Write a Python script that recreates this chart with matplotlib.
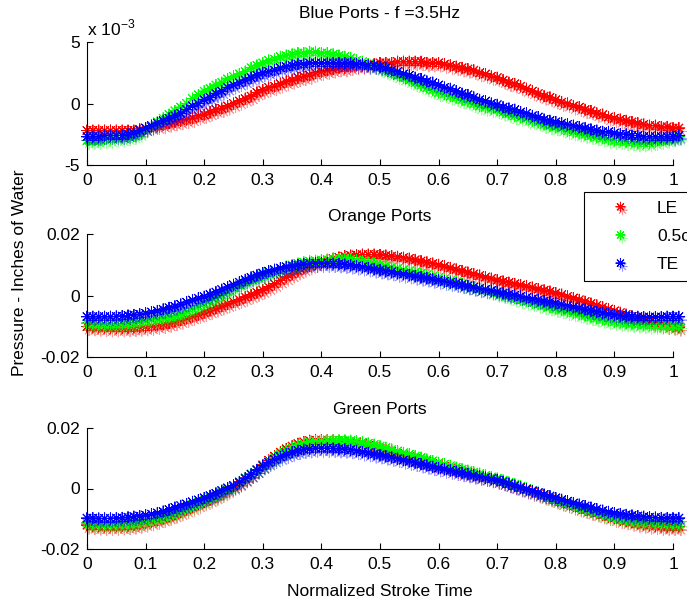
import numpy as np
import matplotlib
matplotlib.use("Agg")
import matplotlib.pyplot as plt
import matplotlib.patheffects as pe

plt.rcParams['font.family'] = ['Liberation Sans', 'DejaVu Sans']
plt.rcParams['mathtext.fontset'] = 'custom'
plt.rcParams['mathtext.rm'] = 'Liberation Sans'

# normalized stroke time, 0 .. 1.01
t = np.arange(102) / 100.0

# pressures in 1e-3 inches of water
blue_le = [-2.2, -2.2, -2.2, -2.2, -2.2, -2.2, -2.2, -2.2, -2.2, -2.1,
           -2.0, -1.9, -1.8, -1.7, -1.6, -1.5, -1.4, -1.3, -1.2, -1.0,
           -0.9, -0.7, -0.5, -0.4, -0.2, 0.0, 0.2, 0.4, 0.6, 0.9,
           1.1, 1.3, 1.4, 1.6, 1.8, 1.9, 2.1, 2.2, 2.3, 2.5,
           2.6, 2.7, 2.8, 2.9, 2.9, 3.0, 3.1, 3.1, 3.2, 3.2,
           3.3, 3.3, 3.3, 3.4, 3.4, 3.4, 3.4, 3.4, 3.3, 3.3,
           3.3, 3.2, 3.1, 3.0, 2.9, 2.8, 2.7, 2.5, 2.4, 2.2,
           2.1, 1.9, 1.7, 1.6, 1.4, 1.2, 1.0, 0.8, 0.6, 0.5,
           0.3, 0.1, 0.0, -0.2, -0.3, -0.5, -0.6, -0.8, -0.9, -1.1,
           -1.2, -1.3, -1.4, -1.5, -1.6, -1.7, -1.8, -1.8, -1.9, -1.9,
           -2.0, -2.0]
blue_mid = [-3.0, -3.0, -3.0, -2.9, -2.9, -2.8, -2.8, -2.7, -2.6, -2.4,
            -2.0, -1.8, -1.5, -1.2, -0.9, -0.6, -0.3, 0.0, 0.4, 0.7,
            1.0, 1.2, 1.5, 1.7, 2.0, 2.2, 2.4, 2.6, 2.9, 3.1,
            3.3, 3.5, 3.6, 3.8, 3.9, 4.0, 4.1, 4.1, 4.2, 4.2,
            4.1, 4.1, 4.0, 3.9, 3.8, 3.7, 3.5, 3.4, 3.2, 3.1,
            2.9, 2.7, 2.5, 2.3, 2.1, 1.9, 1.7, 1.5, 1.3, 1.1,
            0.9, 0.8, 0.6, 0.5, 0.3, 0.2, 0.0, -0.2, -0.3, -0.4,
            -0.5, -0.7, -0.8, -1.0, -1.1, -1.2, -1.4, -1.5, -1.7, -1.8,
            -1.9, -2.0, -2.2, -2.3, -2.4, -2.5, -2.6, -2.7, -2.8, -2.9,
            -3.0, -3.0, -3.1, -3.1, -3.2, -3.2, -3.2, -3.1, -3.0, -2.9,
            -2.8, -2.7]
blue_te = [-2.7, -2.7, -2.7, -2.6, -2.6, -2.6, -2.6, -2.5, -2.4, -2.2,
           -2.0, -1.8, -1.6, -1.4, -1.2, -1.0, -0.8, -0.5, -0.2, 0.0,
           0.3, 0.5, 0.8, 1.0, 1.3, 1.5, 1.7, 1.9, 2.1, 2.3,
           2.5, 2.6, 2.7, 2.9, 3.0, 3.1, 3.2, 3.2, 3.3, 3.3,
           3.3, 3.3, 3.3, 3.3, 3.3, 3.3, 3.2, 3.2, 3.1, 3.1,
           3.0, 2.9, 2.7, 2.6, 2.4, 2.3, 2.1, 2.0, 1.8, 1.7,
           1.5, 1.3, 1.2, 1.0, 0.8, 0.7, 0.5, 0.3, 0.2, 0.0,
           -0.1, -0.3, -0.4, -0.5, -0.7, -0.8, -1.0, -1.1, -1.3, -1.4,
           -1.5, -1.6, -1.7, -1.8, -1.9, -2.0, -2.1, -2.2, -2.3, -2.3,
           -2.4, -2.5, -2.5, -2.6, -2.6, -2.7, -2.7, -2.7, -2.7, -2.7,
           -2.7, -2.6]

orange_le = [-10.1, -10.2, -10.3, -10.4, -10.5, -10.5, -10.5, -10.5, -10.4, -10.3,
             -10.2, -10.0, -9.7, -9.4, -9.0, -8.5, -8.0, -7.4, -6.8, -6.2,
             -5.5, -4.8, -4.1, -3.4, -2.7, -2.0, -1.3, -0.5, 0.2, 1.0,
             1.8, 2.8, 3.8, 4.9, 6.0, 7.0, 8.0, 8.9, 9.7, 10.4,
             11.0, 11.5, 12.0, 12.4, 12.8, 13.0, 13.2, 13.3, 13.3, 13.3,
             13.2, 13.0, 12.8, 12.6, 12.3, 12.0, 11.6, 11.2, 10.8, 10.4,
             10.0, 9.5, 9.0, 8.5, 8.0, 7.5, 7.0, 6.5, 6.0, 5.5,
             5.0, 4.6, 4.2, 3.8, 3.4, 3.0, 2.6, 2.1, 1.7, 1.3,
             0.8, 0.3, -0.3, -0.8, -1.4, -2.0, -2.6, -3.2, -3.8, -4.4,
             -5.0, -5.6, -6.2, -6.8, -7.4, -8.0, -8.5, -9.0, -9.4, -9.7,
             -10.0, -10.3]
orange_mid = [-9.0, -9.1, -9.2, -9.3, -9.3, -9.3, -9.2, -9.0, -8.8, -8.5,
              -8.2, -7.9, -7.6, -7.3, -6.9, -6.5, -6.0, -5.2, -4.2, -3.4,
              -2.5, -1.6, -0.7, 0.2, 1.3, 2.5, 3.5, 4.4, 5.3, 6.0,
              6.7, 7.4, 8.1, 8.8, 9.4, 9.9, 10.4, 10.8, 11.1, 11.3,
              11.5, 11.7, 11.8, 11.9, 11.9, 11.8, 11.5, 11.1, 10.7, 10.4,
              10.0, 9.6, 9.2, 8.8, 8.4, 8.0, 7.5, 7.1, 6.7, 6.2,
              5.8, 5.3, 4.8, 4.3, 3.8, 3.3, 2.8, 2.3, 1.8, 1.3,
              0.8, 0.3, -0.2, -0.8, -1.3, -1.8, -2.3, -2.8, -3.3, -3.7,
              -4.2, -4.7, -5.1, -5.6, -6.0, -6.5, -6.9, -7.3, -7.7, -8.1,
              -8.5, -8.7, -8.9, -9.1, -9.3, -9.5, -9.6, -9.7, -9.7, -9.7,
              -9.7, -9.6]
orange_te = [-6.9, -6.9, -6.9, -6.9, -6.9, -6.8, -6.7, -6.5, -6.3, -6.1,
             -5.8, -5.4, -5.0, -4.5, -4.0, -3.5, -2.9, -2.2, -1.5, -0.9,
             -0.4, 0.3, 1.1, 1.9, 2.7, 3.5, 4.3, 5.1, 5.9, 6.6,
             7.3, 7.9, 8.4, 8.9, 9.3, 9.6, 9.9, 10.2, 10.4, 10.5,
             10.5, 10.5, 10.4, 10.3, 10.1, 9.9, 9.6, 9.3, 9.0, 8.6,
             8.3, 8.0, 7.7, 7.3, 7.0, 6.7, 6.3, 6.0, 5.7, 5.3,
             5.0, 4.6, 4.2, 3.9, 3.5, 3.1, 2.7, 2.3, 2.0, 1.6,
             1.2, 0.8, 0.4, 0.1, -0.3, -0.7, -1.1, -1.4, -1.8, -2.1,
             -2.5, -2.9, -3.3, -3.7, -4.1, -4.5, -4.9, -5.3, -5.6, -6.0,
             -6.3, -6.5, -6.7, -6.8, -6.9, -7.0, -7.0, -7.0, -7.0, -6.9,
             -6.9, -6.9]

green_le = [-12.1, -12.3, -12.4, -12.5, -12.5, -12.5, -12.4, -12.3, -12.1, -11.8,
            -11.4, -11.0, -10.5, -9.9, -9.2, -8.5, -7.7, -6.9, -6.1, -5.2,
            -4.4, -3.5, -2.6, -1.6, -0.5, 0.6, 1.8, 3.2, 4.6, 6.2,
            7.8, 9.3, 10.7, 12.0, 13.1, 14.0, 14.8, 15.4, 15.8, 16.0,
            16.0, 16.0, 15.9, 15.8, 15.7, 15.5, 15.2, 14.8, 14.3, 13.8,
            13.3, 12.7, 12.2, 11.6, 11.1, 10.5, 10.0, 9.4, 8.9, 8.3,
            7.8, 7.3, 6.8, 6.3, 5.8, 5.3, 4.8, 4.3, 3.8, 3.3,
            2.8, 2.2, 1.5, 0.8, 0.2, -0.5, -1.2, -1.8, -2.5, -3.1,
            -3.8, -4.5, -5.1, -5.8, -6.4, -7.0, -7.6, -8.1, -8.7, -9.3,
            -9.8, -10.3, -10.7, -11.1, -11.5, -11.8, -12.1, -12.3, -12.5, -12.6,
            -12.6, -12.6]
green_mid = [-11.4, -11.5, -11.6, -11.7, -11.7, -11.7, -11.6, -11.5, -11.3, -11.1,
             -10.8, -10.4, -9.9, -9.3, -8.6, -7.8, -7.0, -6.2, -5.4, -4.6,
             -3.8, -3.0, -2.1, -1.1, -0.1, 1.0, 2.2, 3.5, 4.8, 6.1,
             7.5, 8.9, 10.2, 11.4, 12.5, 13.5, 14.3, 14.9, 15.4, 15.7,
             15.8, 15.9, 15.9, 15.9, 15.9, 15.8, 15.6, 15.3, 14.9, 14.5,
             14.0, 13.5, 12.9, 12.4, 11.8, 11.3, 10.7, 10.2, 9.6, 9.1,
             8.5, 8.0, 7.5, 6.9, 6.4, 5.9, 5.4, 4.9, 4.3, 3.8,
             3.3, 2.7, 2.0, 1.4, 0.7, 0.0, -0.7, -1.4, -2.1, -2.8,
             -3.5, -4.2, -4.8, -5.5, -6.1, -6.7, -7.2, -7.8, -8.3, -8.8,
             -9.3, -9.7, -10.1, -10.4, -10.7, -11.0, -11.2, -11.3, -11.4, -11.5,
             -11.5, -11.5]
green_te = [-9.8, -9.8, -9.9, -9.9, -9.9, -9.8, -9.7, -9.5, -9.3, -9.1,
            -8.8, -8.5, -8.1, -7.6, -7.0, -6.3, -5.7, -5.1, -4.4, -3.8,
            -3.1, -2.4, -1.6, -0.7, 0.2, 1.0, 2.1, 3.4, 4.7, 6.1,
            7.5, 8.6, 9.6, 10.5, 11.3, 12.0, 12.5, 12.9, 13.1, 13.3,
            13.3, 13.3, 13.2, 13.1, 13.0, 12.8, 12.5, 12.1, 11.8, 11.4,
            11.1, 10.7, 10.3, 9.9, 9.4, 9.0, 8.6, 8.1, 7.7, 7.2,
            6.8, 6.4, 6.0, 5.6, 5.2, 4.8, 4.4, 4.0, 3.6, 3.2,
            2.8, 2.2, 1.6, 1.0, 0.4, -0.2, -0.8, -1.4, -2.0, -2.5,
            -3.1, -3.7, -4.2, -4.8, -5.3, -5.8, -6.3, -6.8, -7.3, -7.7,
            -8.1, -8.4, -8.7, -8.9, -9.1, -9.3, -9.5, -9.6, -9.7, -9.8,
            -9.8, -9.8]

labels = ['LE', '0.5c', 'TE']
colors = ['#ff0000', '#00ff00', '#0000ff']
titles = ['Blue Ports - f =3.5Hz', 'Orange Ports', 'Green Ports']
panels = [(blue_le, blue_mid, blue_te),
          (orange_le, orange_mid, orange_te),
          (green_le, green_mid, green_te)]
ylims = [0.005, 0.02, 0.02]
yticklabels = [['-5', '0', '5'], ['-0.02', '0', '0.02'], ['-0.02', '0', '0.02']]
xticks = np.arange(0, 11) / 10.0
xticklabels = ['0', '0.1', '0.2', '0.3', '0.4', '0.5', '0.6', '0.7', '0.8', '0.9', '1']

FS = 12.5
W, H = 687, 603
fig = plt.figure(figsize=(W / 100, H / 100), dpi=100)
# axes boxes in pixels: (top, bottom)
boxes = [(42, 165), (234, 357), (428, 549)]
title_pads = [17, 9, 10]
asterisk = (8, 2, 0)

axes = []
for i, (top, bot) in enumerate(boxes):
    ax = fig.add_axes([87 / W, 1 - bot / H, 586 / W, (bot - top) / H])
    handles = []
    for vals, c, lab in zip(panels[i], colors, labels):
        y = np.array(vals) * 1e-3
        h, = ax.plot(t, y, color=c, lw=0.7, marker=asterisk, ms=8.5, mew=0.7,
                     label=lab, clip_on=False)
        # faint copy just below each curve
        h.set_path_effects([pe.SimpleLineShadow(offset=(1.5, -2.5), alpha=0.4,
                                                shadow_color=c), pe.Normal()])
        handles.append(h)
    lim = ylims[i]
    ax.set_xlim(0, 1)
    ax.set_ylim(-lim, lim)
    ax.set_xticks(xticks)
    ax.set_xticklabels(xticklabels)
    ax.set_yticks([-lim, 0, lim])
    ax.set_yticklabels(yticklabels[i])
    ax.spines['top'].set_visible(False)
    ax.spines['right'].set_visible(False)
    for s in ('left', 'bottom'):
        ax.spines[s].set_linewidth(0.8)
    ax.tick_params(direction='in', length=4, width=0.8, labelsize=FS, pad=5)
    ax.tick_params(axis='x', pad=6)
    ax.set_title(titles[i], fontsize=FS, pad=title_pads[i])
    axes.append(ax)

axes[0].text(0.0, 1.03, r'x 10$^{-3}$', transform=axes[0].transAxes,
             fontsize=FS, ha='left', va='bottom')

fig.text(20 / W, 1 - 273 / H, 'Pressure - Inches of Water', rotation=90,
         fontsize=FS, ha='center', va='center')
fig.text(380 / W, 1 - 592 / H, 'Normalized Stroke Time', fontsize=FS,
         ha='center', va='center')

# legend box runs past the right edge of the figure
leg = fig.legend(handles, labels, loc='upper left',
                 bbox_to_anchor=(584 / W, 1 - 192 / H), fontsize=FS,
                 handlelength=3.2, handletextpad=0.5, borderpad=0.5,
                 labelspacing=0.75, fancybox=False, framealpha=1,
                 edgecolor='black', borderaxespad=0)
leg.get_frame().set_linewidth(0.8)
for lh in leg.legend_handles:
    lh.set_linestyle('none')
    lh.set_markersize(7)

fig.savefig('out.png', dpi=100)
